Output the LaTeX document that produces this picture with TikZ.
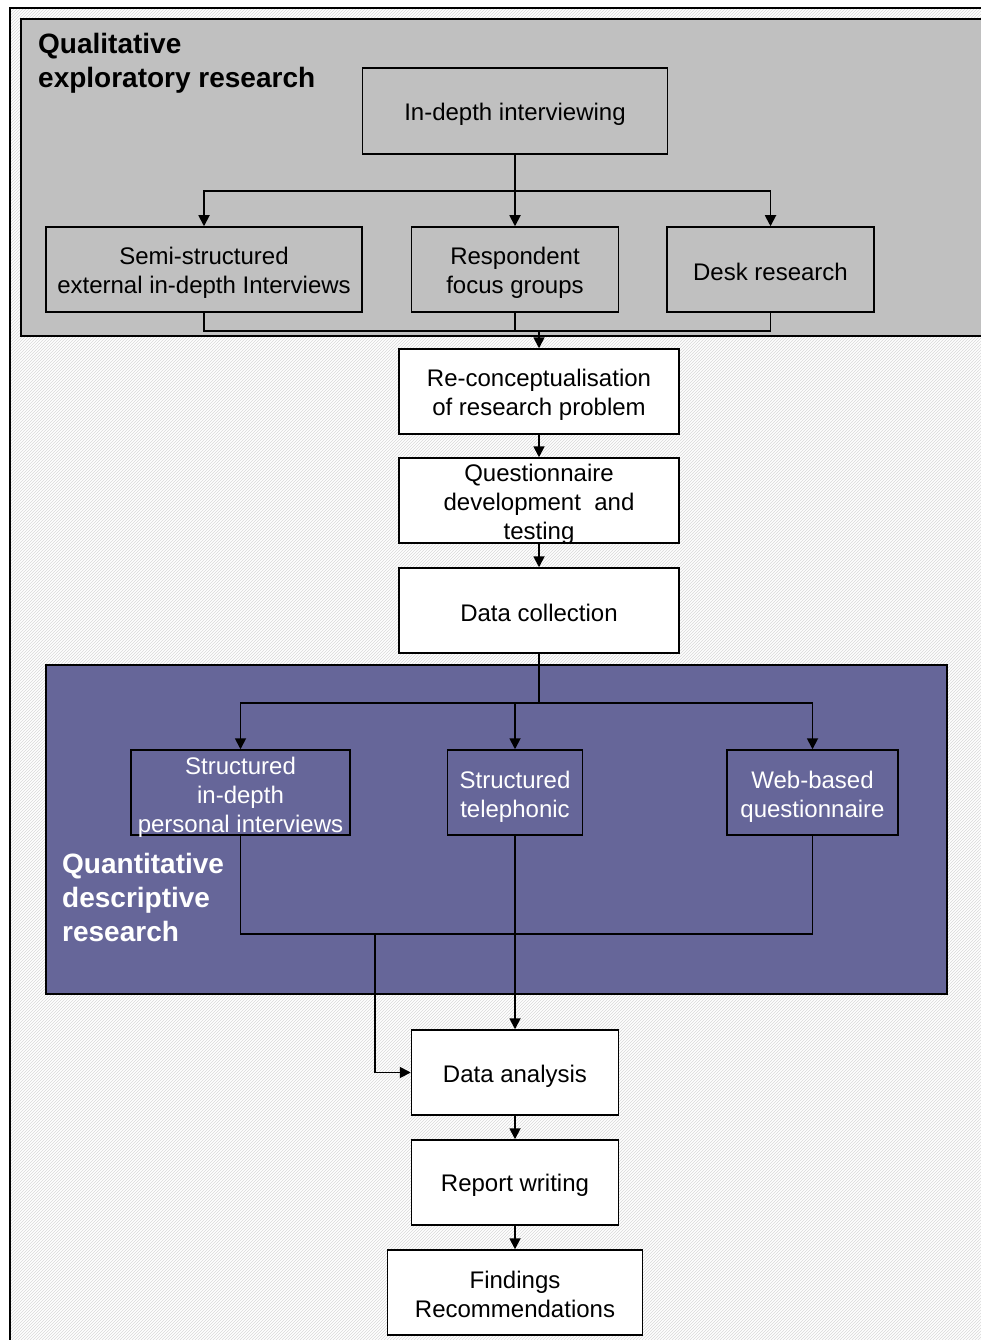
\documentclass[tikz,border=0pt]{standalone}
\usepackage{fontspec}
\setmainfont{Liberation Sans}
\usetikzlibrary{arrows.meta,patterns}
\definecolor{qualgray}{HTML}{C0C0C0}
\definecolor{quantblue}{HTML}{666699}
\begin{document}
\begin{tikzpicture}[x=1pt,y=-1pt,
  box/.style={draw=black, line width=1.5pt, inner sep=0pt, minimum height=85pt},
  wbox/.style={box, fill=white},
  txt/.style={inner sep=0pt, align=center, font=\fontsize{24}{29}\selectfont},
  wtxt/.style={txt, text=white},
  region/.style={draw=black, line width=1.5pt, inner sep=0pt},
  heading/.style={inner sep=0pt, anchor=north west, align=left,
    font=\fontsize{28}{34}\selectfont\bfseries},
  link/.style={draw=black, line width=1.8pt},
  arr/.style={link, -{Triangle[length=11pt,width=11pt]}}]

\useasboundingbox (0,0) rectangle (981,1340);
\fill[white] (0,0) rectangle (981,1340);
\path[pattern=north east lines, pattern color=gray!30] (10,8) rectangle (1000,1360);
\draw[line width=1.5pt] (1000,8) -- (10,8) -- (10,1360);

% regions
\node[region, fill=qualgray, minimum width=980pt, minimum height=317pt] (qual) at (511,177.5) {};
\node[region, fill=quantblue, minimum width=901pt, minimum height=329pt] (quant) at (496.5,829.5) {};
\node[heading] (qualt) at (38,33) {Qualitative\\exploratory research};
\node[heading, text=white] (quantt) at (62,853) {Quantitative\\descriptive\\research};

% boxes
\node[box, minimum width=305pt, minimum height=86pt] (idi) at (515,111) {};
\node[box, minimum width=316pt] (semi) at (204,269.5) {};
\node[box, minimum width=207pt] (resp) at (515,269.5) {};
\node[box, minimum width=207pt] (desk) at (770.5,269.5) {};
\node[wbox, minimum width=280pt] (recon) at (539,391.5) {};
\node[wbox, minimum width=280pt] (quest) at (539,500.5) {};
\node[wbox, minimum width=280pt] (dcol) at (539,610.5) {};
\node[box, minimum width=219pt] (sidpi) at (240.5,792.5) {};
\node[box, minimum width=135pt] (stel) at (515,792.5) {};
\node[box, minimum width=171pt] (web) at (812.5,792.5) {};
\node[wbox, minimum width=207pt] (da) at (515,1072.5) {};
\node[wbox, minimum width=207pt] (rw) at (515,1182.5) {};
\node[wbox, minimum width=255pt] (fr) at (515,1292.5) {};

% box texts
\node[txt] (idi-t) at ([yshift=-3pt]idi.center) {In-depth interviewing};
\node[txt] (semi-t) at ([yshift=-3.5pt]semi.center) {Semi-structured\\external in-depth Interviews};
\node[txt] (resp-t) at ([yshift=-3.5pt]resp.center) {Respondent\\focus groups};
\node[txt] (desk-t) at ([yshift=-2pt]desk.center) {Desk research};
\node[txt] (recon-t) at ([yshift=-3.5pt]recon.center) {Re-conceptualisation\\of research problem};
\node[txt] (quest-t) at ([yshift=-4pt]quest.center) {Questionnaire\\development~~and\\testing};
\node[txt] (dcol-t) at ([yshift=-2pt]dcol.center) {Data collection};
\node[wtxt] (sidpi-t) at ([yshift=-4.5pt]sidpi.center) {Structured\\in-depth\\personal interviews};
\node[wtxt] (stel-t) at ([yshift=-4pt]stel.center) {Structured\\telephonic};
\node[wtxt] (web-t) at ([yshift=-4pt]web.center) {Web-based\\questionnaire};
\node[txt] (da-t) at ([yshift=-3.5pt]da.center) {Data analysis};
\node[txt] (rw-t) at ([yshift=-3pt]rw.center) {Report writing};
\node[txt] (fr-t) at ([yshift=-1.5pt]fr.center) {Findings\\Recommendations};

% connectors
\draw[link] (idi.south) -- ++(0,36) coordinate (j0);
\draw[arr] (j0) -| (semi.north);
\draw[arr] (j0) -- (resp.north);
\draw[arr] (j0) -| (desk.north);
\draw[link] (semi.south) -- ++(0,18) -| (desk.south);
\draw[link] (resp.south) -- ++(0,18);
\coordinate (j1) at (539,330);
\draw[arr] (j1) -- (recon.north);
\draw[arr] (recon.south) -- (quest.north);
\draw[arr] (quest.south) -- (dcol.north);
\draw[link] (dcol.south) -- ++(0,49) coordinate (j2);
\draw[arr] (j2) -| (sidpi.north);
\draw[arr] (j2) -| (stel.north);
\draw[arr] (j2) -| (web.north);
\draw[link] (sidpi.south) -- ++(0,98) -| (web.south);
\draw[arr] (stel.south) -- (da.north);
\coordinate (j3) at (375,933);
\draw[arr] (j3) |- (da.west);
\draw[arr] (da.south) -- (rw.north);
\draw[arr] (rw.south) -- (fr.north);
\end{tikzpicture}
\end{document}
